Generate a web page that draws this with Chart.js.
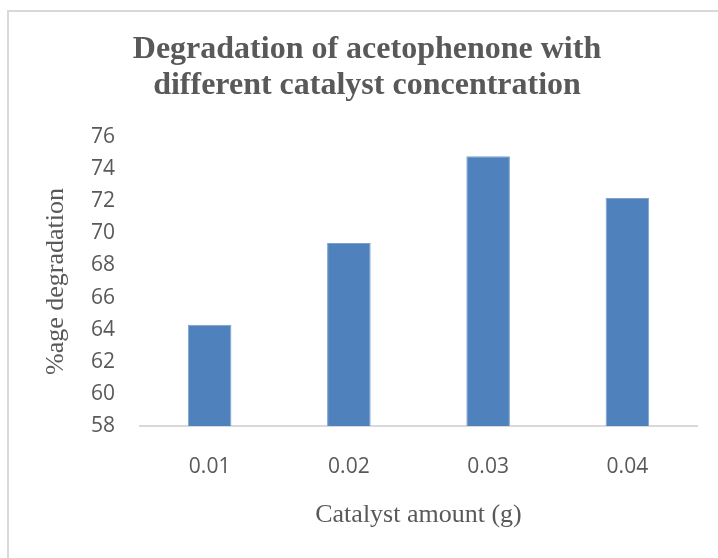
<!DOCTYPE html>
<html>
<head>
<meta charset="utf-8">
<script src="https://cdn.jsdelivr.net/npm/chart.js@4.4.1/dist/chart.umd.min.js"></script>
<style>
  html, body { margin: 0; padding: 0; background: #ffffff; overflow: hidden; }
  #wrap { position: relative; width: 718px; height: 558px; }
  #frame {
    position: absolute; left: 7px; top: 10px; width: 800px; height: 600px;
    border-left: 2px solid #d9d9d9; border-top: 2px solid #d9d9d9;
  }
  #chart { position: absolute; left: 0; top: 0; }
</style>
</head>
<body>
<div id="wrap">
  <div id="frame"></div>
  <canvas id="chart" width="718" height="558"></canvas>
</div>
<script>
const catalystAmounts = ['0.01', '0.02', '0.03', '0.04'];
const degradation = [64.3, 69.4, 74.8, 72.2];
const yMin = 58;
const yMax = 76;
const yStep = 2;

const textGrey = '#595959';

const ctx = document.getElementById('chart');

new Chart(ctx, {
  type: 'bar',
  data: {
    labels: catalystAmounts,
    datasets: [{
      label: '%age degradation',
      data: degradation,
      backgroundColor: '#4f81bd',
      borderColor: '#7da1cf',
      borderWidth: 1,
      barPercentage: 0.313,
      categoryPercentage: 1.0
    }]
  },
  options: {
    responsive: false,
    animation: false,
    layout: {
      padding: { left: 37, right: 21, top: 0, bottom: 0 }
    },
    plugins: {
      legend: { display: false },
      tooltip: { enabled: false },
      title: {
        display: true,
        text: ['Degradation of acetophenone with', 'different catalyst concentration'],
        color: textGrey,
        font: { family: 'Liberation Serif, Times New Roman, serif', size: 32, weight: 'bold', lineHeight: 1.147 },
        padding: { top: 31, bottom: 32.6 }
      }
    },
    scales: {
      x: {
        afterFit: function (scale) { scale.height = 132; },
        grid: { display: false, drawTicks: false },
        border: { display: true, color: '#d9d9d9', width: 2 },
        ticks: {
          color: textGrey,
          padding: 28,
          font: { family: 'Open Sans, sans-serif', size: 21 }
        },
        title: {
          display: true,
          text: 'Catalyst amount (g)',
          color: textGrey,
          font: { family: 'Liberation Serif, Times New Roman, serif', size: 26 },
          padding: { top: 0, bottom: 27 }
        }
      },
      y: {
        min: yMin,
        max: yMax,
        afterFit: function (scale) { scale.width = 103; },
        grid: { display: false, drawTicks: false },
        border: { display: false },
        ticks: {
          stepSize: yStep,
          color: textGrey,
          padding: 25,
          font: { family: 'Open Sans, sans-serif', size: 21 }
        },
        title: {
          display: true,
          text: '%age degradation',
          color: textGrey,
          font: { family: 'Liberation Serif, Times New Roman, serif', size: 26 },
          padding: { top: 3.4, bottom: 0 }
        }
      }
    }
  }
});
</script>
</body>
</html>
